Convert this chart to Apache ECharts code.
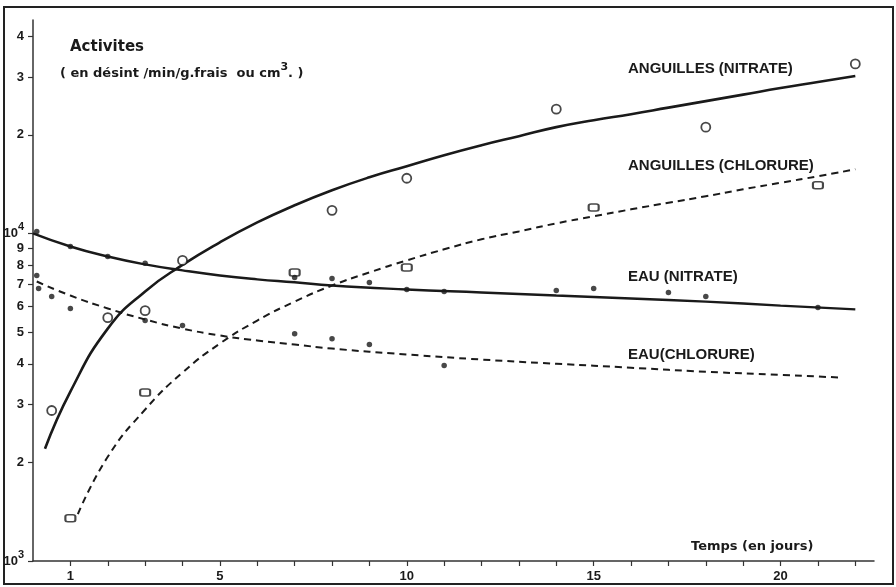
<!DOCTYPE html>
<html>
<head>
<meta charset="utf-8">
<script src="https://cdn.jsdelivr.net/npm/echarts@6/dist/echarts.min.js"></script>
<style>
  html, body { margin: 0; padding: 0; background: #fff; }
  #chart { width: 896px; height: 587px; }
</style>
</head>
<body>
<div id="chart"></div>
<script>
// ---- Axis ticks ----
const xTickValues = [1, 2, 3, 4, 5, 6, 7, 8, 9, 10, 11, 12, 13, 14, 15, 16, 17, 18, 19, 20, 21, 22];
const xLabelValues = [1, 5, 10, 15, 20];
const yTickValues = [1000, 2000, 3000, 4000, 5000, 6000, 7000, 8000, 9000, 10000, 20000, 30000, 40000];
const yTickLabels = ['{b|10}{s|3}', '{b|2}', '{b|3}', '{b|4}', '{b|5}', '{b|6}', '{b|7}', '{b|8}', '{b|9}', '{b|10}{s|4}', '{b|2}', '{b|3}', '{b|4}'];

// ---- ANGUILLES (NITRATE) : fitted curve + open circles ----
const anguillesNitrateCurve = [[0.32, 2200], [1, 3290], [2, 5120], [3, 6650], [4, 8010], [5, 9390], [6, 10800], [7, 12180], [8, 13540], [9, 14830], [10, 16030], [11, 17320], [12, 18580], [13, 19800], [14, 21100], [15, 22160], [16, 23110], [17, 24200], [18, 25330], [19, 26510], [20, 27770], [21, 28960], [22, 30210]];
const anguillesNitratePoints = [[0.5, 2880], [2, 5530], [3, 5810], [4, 8270], [8, 11760], [10, 14730], [14, 23940], [18, 21100], [22, 32900]];

// ---- ANGUILLES (CHLORURE) : fitted curve + open squares ----
const anguillesChlorureCurve = [[1.2, 1390], [2, 2080], [3, 2900], [4, 3760], [5, 4610], [6, 5420], [7, 6190], [8, 6930], [9, 7600], [10, 8270], [11, 8940], [12, 9590], [13, 10140], [14, 10730], [15, 11270], [16, 11840], [17, 12400], [18, 12980], [19, 13630], [20, 14270], [21, 14940], [22, 15690]];
const anguillesChlorurePoints = [[1, 1350], [3, 3270], [7, 7600], [10, 7870], [15, 12000], [21, 14030]];

// ---- EAU (NITRATE) : fitted curve + dots ----
const eauNitrateCurve = [[0, 10000], [1, 9120], [2, 8500], [3, 8040], [4, 7710], [5, 7440], [6, 7240], [7, 7090], [8, 6930], [10, 6740], [12, 6600], [14, 6460], [16, 6330], [18, 6190], [20, 6020], [22, 5860]];
const eauNitratePoints = [[0.1, 10140], [1, 9120], [2, 8500], [3, 8100], [7, 7340], [8, 7280], [9, 7080], [10, 6740], [11, 6650], [14, 6690], [15, 6790], [17, 6600], [18, 6420], [21, 5940]];

// ---- EAU (CHLORURE) : fitted curve + dots ----
const eauChlorureCurve = [[0.1, 7130], [1, 6460], [2, 5900], [3, 5460], [4, 5120], [5, 4880], [6, 4710], [7, 4580], [8, 4450], [10, 4270], [12, 4120], [14, 4000], [16, 3890], [18, 3780], [20, 3700], [21.6, 3630]];
const eauChlorurePoints = [[0.1, 7440], [0.15, 6790], [0.5, 6420], [1, 5900], [3, 5420], [4, 5230], [7, 4940], [8, 4770], [9, 4580], [11, 3950]];

const ink = '#1a1a1a';
const chart = echarts.init(document.getElementById('chart'), null, { renderer: 'canvas' });

const labelFont = 'Liberation Sans';
const curveSmooth = 0.5;

chart.setOption({
  backgroundColor: '#ffffff',
  animation: false,
  grid: { left: 33, right: 22, top: 20, bottom: 26, containLabel: false },
  xAxis: {
    type: 'value', min: 0, max: 22.5,
    axisLine: { show: true, lineStyle: { color: '#333', width: 1.5 } },
    axisTick: { show: true, customValues: xTickValues, length: 5, lineStyle: { color: '#333', width: 1.2 } },
    axisLabel: { customValues: xLabelValues, margin: 9, color: ink, fontFamily: labelFont, fontWeight: 'bold', fontSize: 13 },
    splitLine: { show: false }
  },
  yAxis: {
    type: 'log', logBase: 10, min: 1000, max: 44800,
    axisLine: { show: true, lineStyle: { color: '#333', width: 1.5 } },
    axisTick: { show: true, customValues: yTickValues, length: 5, lineStyle: { color: '#333', width: 1.2 } },
    minorTick: { show: false },
    axisLabel: {
      customValues: yTickValues, margin: 9,
      formatter: function (v) {
        const i = yTickValues.findIndex(function (t) { return Math.abs(t - v) / t < 1e-6; });
        return i >= 0 ? yTickLabels[i] : '';
      },
      rich: {
        b: { color: ink, fontFamily: labelFont, fontWeight: 'bold', fontSize: 13 },
        s: { color: ink, fontFamily: labelFont, fontWeight: 'bold', fontSize: 11, padding: [0, 0, 12, 0] }
      }
    },
    splitLine: { show: false }
  },
  graphic: [
    { type: 'rect', shape: { x: 4, y: 7, width: 889, height: 577 }, style: { fill: 'none', stroke: '#222', lineWidth: 2 }, silent: true },
    { type: 'text', x: 70, y: 47, style: { text: 'Activites', font: 'bold 15px "DejaVu Sans"', fill: ink, verticalAlign: 'middle' } },
    { type: 'text', x: 60, y: 74, style: { text: '( en désint /min/g.frais  ou cm{s|3}. )', font: 'bold 13px "DejaVu Sans"', fill: ink, verticalAlign: 'middle',
        rich: { s: { font: 'bold 11px "DejaVu Sans"', fill: ink, padding: [0, 0, 14, 0] } } } },
    { type: 'text', x: 628, y: 69, style: { text: 'ANGUILLES (NITRATE)', font: 'bold 15px "Liberation Sans"', fill: ink, verticalAlign: 'middle' } },
    { type: 'text', x: 628, y: 166, style: { text: 'ANGUILLES (CHLORURE)', font: 'bold 15px "Liberation Sans"', fill: ink, verticalAlign: 'middle' } },
    { type: 'text', x: 628, y: 277, style: { text: 'EAU (NITRATE)', font: 'bold 15px "Liberation Sans"', fill: ink, verticalAlign: 'middle' } },
    { type: 'text', x: 628, y: 355, style: { text: 'EAU(CHLORURE)', font: 'bold 15px "Liberation Sans"', fill: ink, verticalAlign: 'middle' } },
    { type: 'text', x: 691, y: 547, style: { text: 'Temps (en jours)', font: 'bold 13px "DejaVu Sans"', fill: ink, verticalAlign: 'middle' } }
  ],
  series: [
    { name: 'Anguilles nitrate', type: 'line', data: anguillesNitrateCurve, smooth: curveSmooth, showSymbol: false, symbol: 'none',
      lineStyle: { color: ink, width: 2.6 }, z: 3 },
    { name: 'Anguilles nitrate pts', type: 'scatter', data: anguillesNitratePoints, symbol: 'circle', symbolSize: 9,
      itemStyle: { color: '#fff', borderColor: ink, borderWidth: 1.8 }, z: 5 },
    { name: 'Anguilles chlorure', type: 'line', data: anguillesChlorureCurve, smooth: curveSmooth, showSymbol: false, symbol: 'none',
      lineStyle: { color: ink, width: 2, type: [7, 5] }, z: 3 },
    { name: 'Anguilles chlorure pts', type: 'scatter', data: anguillesChlorurePoints, symbol: 'roundRect', symbolSize: [10, 7],
      itemStyle: { color: '#fff', borderColor: ink, borderWidth: 1.8 }, z: 5 },
    { name: 'Eau nitrate', type: 'line', data: eauNitrateCurve, smooth: curveSmooth, showSymbol: false, symbol: 'none',
      lineStyle: { color: ink, width: 2.4 }, z: 3 },
    { name: 'Eau nitrate pts', type: 'scatter', data: eauNitratePoints, symbol: 'circle', symbolSize: 5.5,
      itemStyle: { color: ink }, z: 5 },
    { name: 'Eau chlorure', type: 'line', data: eauChlorureCurve, smooth: curveSmooth, showSymbol: false, symbol: 'none',
      lineStyle: { color: ink, width: 2, type: [7, 5] }, z: 3 },
    { name: 'Eau chlorure pts', type: 'scatter', data: eauChlorurePoints, symbol: 'circle', symbolSize: 5.5,
      itemStyle: { color: ink }, z: 5 }
  ]
});
</script>
</body>
</html>
